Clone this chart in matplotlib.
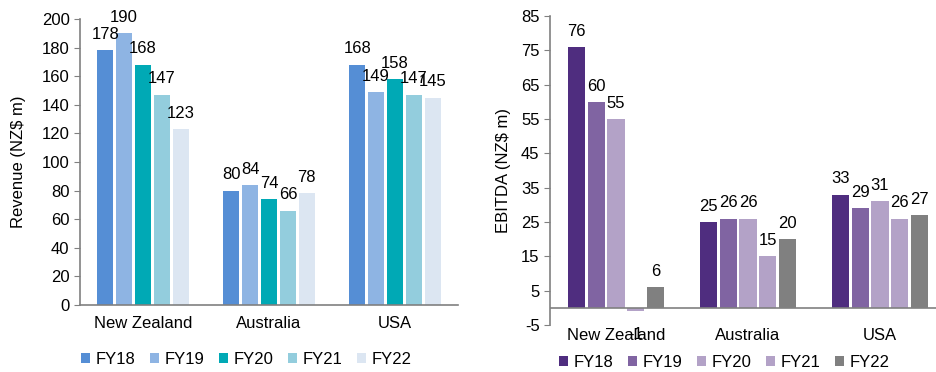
import numpy as np
import matplotlib
matplotlib.use("Agg")
import matplotlib.pyplot as plt

# data
regions = ["New Zealand", "Australia", "USA"]
years = ["FY18", "FY19", "FY20", "FY21", "FY22"]
revenue = [
    [178, 80, 168],  # FY18
    [190, 84, 149],  # FY19
    [168, 74, 158],  # FY20
    [147, 66, 147],  # FY21
    [123, 78, 145],  # FY22
]
ebitda = [
    [76, 25, 33],
    [60, 26, 29],
    [55, 26, 31],
    [-1, 15, 26],
    [6, 20, 27],
]
rev_colors = ["#558ED5", "#8EB4E3", "#00A9B5", "#93CDDD", "#DCE6F2"]
ebitda_colors = ["#4F2D7F", "#8064A2", "#B3A2C7", "#B3A2C7", "#808080"]

plt.rcParams["font.family"] = ["Liberation Sans", "DejaVu Sans"]
plt.rcParams["font.size"] = 12
plt.rcParams["axes.unicode_minus"] = False

grey = "#808080"
fig = plt.figure(figsize=(9.37, 3.72), dpi=100)


def bars(ax, data, colors):
    x = np.arange(len(regions))
    slot = 0.15
    for i, (vals, c) in enumerate(zip(data, colors)):
        xs = x - 0.375 + slot * (i + 0.5)
        ax.bar(xs, vals, width=0.13, color=c, label=years[i], zorder=2)
        for xi, v in zip(xs, vals):
            if v >= 0:
                ax.annotate(str(v), (xi, v), xytext=(0, 6), textcoords="offset points",
                            ha="center", va="bottom", color="black")
            else:
                ax.annotate(str(v), (xi, v), xytext=(0, -11), textcoords="offset points",
                            ha="center", va="top", color="black")
    ax.set_xticks(x)
    ax.set_xticklabels(regions)
    ax.set_xlim(-0.5, 2.5)
    ax.tick_params(axis="x", length=0, pad=8)
    ax.tick_params(axis="y", length=4, color=grey, direction="out")
    for s in ["top", "right"]:
        ax.spines[s].set_visible(False)
    for s in ["left", "bottom"]:
        ax.spines[s].set_color(grey)
        ax.spines[s].set_linewidth(1.2)


ax1 = fig.add_axes([0.0854, 0.180, 0.4034, 0.769])
bars(ax1, revenue, rev_colors)
ax1.set_ylim(0, 200)
ax1.set_yticks(range(0, 201, 20))
ax1.set_ylabel("Revenue (NZ$ m)", labelpad=11)
ax1.legend(loc="upper center", bbox_to_anchor=(0.44, -0.14), ncol=5, frameon=False,
           handlelength=0.55, handleheight=0.55, handletextpad=0.3, columnspacing=0.9,
           borderaxespad=0)

ax2 = fig.add_axes([0.587, 0.126, 0.4226, 0.831])
bars(ax2, ebitda, ebitda_colors)
ax2.set_ylim(-5, 85)
ax2.set_yticks(range(-5, 86, 10))
ax2.spines["bottom"].set_visible(False)
ax2.axhline(0, color=grey, lw=1.2, zorder=3)
ax2.tick_params(axis="x", pad=2)
ax2.set_ylabel("EBITDA (NZ$ m)", labelpad=7)
ax2.legend(loc="upper center", bbox_to_anchor=(0.44, -0.075), ncol=5, frameon=False,
           handlelength=0.55, handleheight=0.55, handletextpad=0.3, columnspacing=0.9,
           borderaxespad=0)

fig.savefig("out.png", dpi=100)
